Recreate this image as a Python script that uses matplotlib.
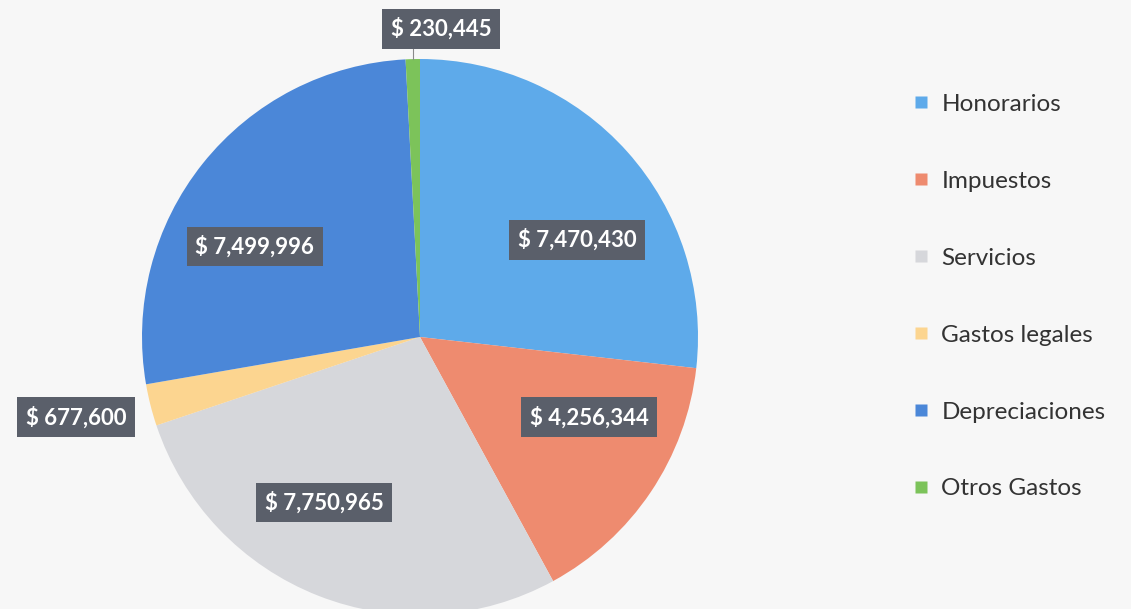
import matplotlib
matplotlib.use("Agg")
from matplotlib import pyplot as plt
from matplotlib.lines import Line2D

# datos del gráfico
categorias = ["Honorarios", "Impuestos", "Servicios", "Gastos legales",
              "Depreciaciones", "Otros Gastos"]
valores = [7470430, 4256344, 7750965, 677600, 7499996, 230445]
colores = ["#5eaaea", "#ee8b6f", "#d6d7db", "#fcd590", "#4b87d8", "#7cc35a"]

# posiciones de las etiquetas (en radios del pastel)
pos_etiquetas = [(0.565, 0.349), (0.608, -0.288), (-0.345, -0.594),
                 (-1.237, -0.288), (-0.594, 0.327), (0.075, 1.108)]

plt.rcParams['font.family'] = ['Lato', 'DejaVu Sans']

W, H = 1131, 609
fig = plt.figure(figsize=(W / 100, H / 100), dpi=100)
fig.patch.set_facecolor("#f7f7f7")

# pastel: centro (420, 337) px, radio 278 px
cx, cy, r = 420, H - 337, 278
half = 330
ax = fig.add_axes([(cx - half) / W, (cy - half) / H, 2 * half / W, 2 * half / H])
ax.set_facecolor("none")
lim = half / r

wedges, _ = ax.pie(valores, colors=colores, startangle=90, counterclock=False,
                   wedgeprops=dict(linewidth=0))
ax.set_xlim(-lim, lim)
ax.set_ylim(-lim, lim)
ax.set_aspect("equal")
ax.axis("off")

# línea guía para la etiqueta pequeña de arriba
ax.plot([-0.025, -0.025], [1.0, 1.05], color="#8a8a8a", lw=0.8)

for v, (x, y) in zip(valores, pos_etiquetas):
    ax.text(x, y, f"$ {v:,}", ha="center", va="center", color="white",
            fontsize=16, fontweight="bold",
            bbox=dict(boxstyle="square,pad=0.38", facecolor="#5a5f6a",
                      edgecolor="none"))

handles = [Line2D([0], [0], marker="s", linestyle="none", markersize=8,
                  markerfacecolor=c, markeredgecolor="none") for c in colores]
fig.legend(handles, categorias, loc="upper left",
           bbox_to_anchor=(889 / W, 1 - 72 / H), frameon=False,
           fontsize=17.5, labelspacing=2.3, handletextpad=0.45,
           handlelength=0.8, labelcolor="#333333")

fig.savefig("out.png", dpi=100, facecolor=fig.get_facecolor())
